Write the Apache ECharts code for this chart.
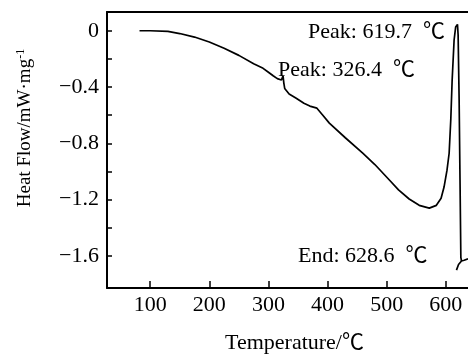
<!DOCTYPE html>
<html>
<head>
<meta charset="utf-8">
<script src="https://cdn.jsdelivr.net/npm/echarts@6/dist/echarts.min.js"></script>
<style>
  html, body { margin: 0; padding: 0; background: #fff; }
  #chart { width: 468px; height: 354px; }
</style>
</head>
<body>
<div id="chart"></div>
<script>
// DSC 曲线数据 (温度 ℃, 热流 mW/mg)
const temps = [82, 100, 130, 150, 175, 200, 225, 250, 275, 291, 300, 308, 315, 322, 324.7, 326, 327.5, 335, 347, 360, 370, 382, 392, 403, 430, 459.5, 480, 504.5, 520, 538, 555, 572, 584, 592, 597, 602, 605.6, 608.4, 610.7, 614, 616.6, 619.7, 620.8, 622.5, 624, 625.4, 626.5, 631, 637.5];
const heatFlow = [0, 0, -0.005, -0.02, -0.045, -0.08, -0.125, -0.175, -0.235, -0.267, -0.295, -0.32, -0.34, -0.35, -0.32, -0.37, -0.41, -0.45, -0.48, -0.515, -0.535, -0.55, -0.6, -0.656, -0.76, -0.87, -0.95, -1.06, -1.13, -1.195, -1.24, -1.26, -1.24, -1.19, -1.11, -0.99, -0.87, -0.63, -0.35, -0.066, 0.026, 0.045, -0.03, -0.49, -1.06, -1.61, -1.635, -1.63, -1.62];
// 末端小尾巴
const tailTemps = [626.5, 621.5, 618];
const tailFlow = [-1.635, -1.66, -1.7];

const xTicks = [100, 200, 300, 400, 500, 600];
const yLabels = [0, -0.4, -0.8, -1.2, -1.6];
const yTicks = [0, -0.2, -0.4, -0.6, -0.8, -1.0, -1.2, -1.4, -1.6];

const notes = [
    { text: 'Peak: 619.7  ℃', x: 308, y: 32 },
    { text: 'Peak: 326.4  ℃', x: 278, y: 70 },
    { text: 'End: 628.6  ℃', x: 298, y: 256 }
];

const font = '"Liberation Serif", "Noto Sans CJK SC", serif';
const fmtMinus = v => v === 0 ? '0' : (v < 0 ? '\u2212' : '') + Math.abs(v).toFixed(1);

const chart = echarts.init(document.getElementById('chart'));
chart.setOption({
    animation: false,
    grid: { left: 107, right: 0, top: 12, bottom: 66, outerBoundsMode: 'none' },
    xAxis: [{
        type: 'value', min: 27, max: 637.5,
        name: 'Temperature/℃', nameLocation: 'middle', nameGap: 44,
        nameTextStyle: { fontFamily: font, fontSize: 22, color: '#000', padding: [0, 0, 0, 14] },
        axisLine: { show: true, onZero: false, lineStyle: { color: '#000', width: 2 } },
        axisTick: { show: true, inside: true, length: 7, customValues: xTicks, lineStyle: { color: '#000', width: 1.5 } },
        axisLabel: { customValues: xTicks, margin: 6, fontFamily: font, fontSize: 22, color: '#000' },
        splitLine: { show: false }
    }, {
        type: 'value', min: 27, max: 637.5, position: 'top',
        axisLine: { show: true, onZero: false, lineStyle: { color: '#000', width: 2 } },
        axisTick: { show: false }, axisLabel: { show: false }, splitLine: { show: false }
    }],
    yAxis: {
        type: 'value', min: -1.827, max: 0.133,
        name: 'Heat Flow/mW·mg{sup|-1}', nameLocation: 'middle', nameGap: 72,
        nameTextStyle: {
            fontFamily: font, fontSize: 19, color: '#000', padding: [0, 0, 0, 44],
            rich: { sup: { fontFamily: font, fontSize: 12, color: '#000', verticalAlign: 'top', padding: [0, 0, 8, 0] } }
        },
        axisLine: { show: true, onZero: false, lineStyle: { color: '#000', width: 2 } },
        axisTick: { show: true, inside: true, length: 5, customValues: yTicks, lineStyle: { color: '#000', width: 1.5 } },
        axisLabel: { customValues: yLabels, margin: 8, formatter: fmtMinus, fontFamily: font, fontSize: 22, color: '#000' },
        splitLine: { show: false }
    },
    graphic: notes.map(n => ({
        type: 'text',
        style: { text: n.text, x: n.x, y: n.y, verticalAlign: 'middle', fontFamily: font, fontSize: 22, fill: '#000' }
    })),
    series: [{
        type: 'line',
        data: temps.map((t, i) => [t, heatFlow[i]]),
        showSymbol: false,
        lineStyle: { color: '#000', width: 1.7 },
        z: 3
    }, {
        type: 'line',
        data: tailTemps.map((t, i) => [t, tailFlow[i]]),
        showSymbol: false,
        lineStyle: { color: '#000', width: 1.7 },
        z: 3
    }]
});
</script>
</body>
</html>
